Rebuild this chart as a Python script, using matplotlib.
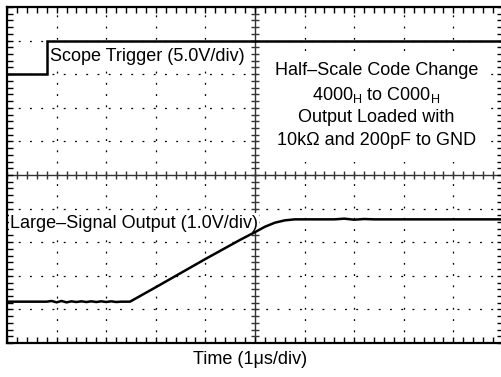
"""Large-signal step response scope capture (half-scale code change)."""

import numpy as np
import matplotlib
matplotlib.use("Agg")
import matplotlib.pyplot as plt
from matplotlib.patches import Rectangle

plt.rcParams["font.family"] = ["Liberation Sans", "DejaVu Sans"]
plt.rcParams["mathtext.fontset"] = "custom"
plt.rcParams["mathtext.rm"] = "Liberation Sans"

# Screen is 10 x 10 divisions; all values below are in divisions
trigger_t = [0.0, 0.8, 0.8, 10.0]
trigger_v = [8.0, 8.0, 9.0, 9.0]

output_t = [0.0, 0.8, 0.9, 1.0, 1.1, 1.2, 1.3, 1.4, 1.5, 1.6, 1.7, 1.8, 1.9,
            2.0, 2.1, 2.2, 2.3, 2.48, 3.0, 4.0, 4.7, 5.0, 5.2, 5.4, 5.6,
            5.8, 6.6, 6.8, 7.0, 7.2, 7.4, 10.0]
output_v = [1.23, 1.23, 1.25, 1.21, 1.25, 1.21, 1.24, 1.22, 1.24, 1.22, 1.24,
            1.22, 1.24, 1.22, 1.24, 1.22, 1.23, 1.23, 1.66, 2.50, 3.07, 3.30,
            3.46, 3.58, 3.65, 3.68, 3.68, 3.70, 3.67, 3.69, 3.68, 3.68]

W, H = 501, 377
fig = plt.figure(figsize=(W / 100, H / 100), dpi=100)
ax = fig.add_axes((7 / W, 34 / H, 496 / W, 336 / H))
ax.set_xlim(0, 10)
ax.set_ylim(0, 10)

# dotted graticule
for k in range(1, 10):
    if k == 5:
        continue
    ax.axvline(k, color="k", lw=0.9, dashes=(1.5, 7.5), zorder=1)
    ax.axhline(k, color="k", lw=0.9, dashes=(1.5, 7.5), zorder=1)

# centre axes with small ticks
fine = np.arange(0, 10.01, 0.2)
ax.axvline(5, color="#333333", lw=1.0, zorder=1)
ax.axhline(5, color="#333333", lw=1.0, zorder=1)
ax.plot(fine, np.full_like(fine, 5), ls="none", marker="|", ms=6,
        mew=1.0, color="#333333", zorder=1)
ax.plot(np.full_like(fine, 5), fine, ls="none", marker="_", ms=6,
        mew=1.0, color="#333333", zorder=1)

# blank area behind the annotation block
ax.add_patch(Rectangle((5.15, 5.4), 4.6, 3.1, facecolor="white",
                       edgecolor="none", zorder=2))

ax.plot(trigger_t, trigger_v, color="k", lw=1.8, zorder=4,
        solid_joinstyle="miter")
ax.plot(output_t, output_v, color="k", lw=1.8, zorder=4)

ax.text(0.87, 8.38, "Scope Trigger (5.0V/div)", fontsize=13, ha="left",
        va="baseline", zorder=3,
        bbox=dict(facecolor="white", edgecolor="none", pad=1.0))
ax.text(0.06, 3.57, "Large\u2013Signal Output (1.0V/div)", fontsize=13,
        ha="left", va="center", zorder=3,
        bbox=dict(facecolor="white", edgecolor="none", pad=1.0))

cx = 7.45
ax.text(cx, 8.12, "Half\u2013Scale Code Change", fontsize=13, ha="center",
        va="center", zorder=3)
ax.text(cx, 7.38, r"4000$_\mathrm{H}$ to C000$_\mathrm{H}$", fontsize=13,
        ha="center", va="center", zorder=3)
ax.text(cx, 6.70, "Output Loaded with", fontsize=13, ha="center",
        va="center", zorder=3)
ax.text(cx, 6.04, "10k\u03a9 and 200pF to GND", fontsize=13, ha="center",
        va="center", zorder=3)

ax.set_xticks(fine)
ax.set_yticks(fine)
ax.tick_params(which="both", direction="in", length=4, width=1.0,
               top=True, right=True, labelbottom=False, labelleft=False)
for spine in ax.spines.values():
    spine.set_linewidth(1.6)

fig.text(250 / W, 1 - 360 / H, "Time (1\u03bcs/div)", fontsize=13,
         ha="center", va="center")

fig.savefig("out.png", dpi=100)
